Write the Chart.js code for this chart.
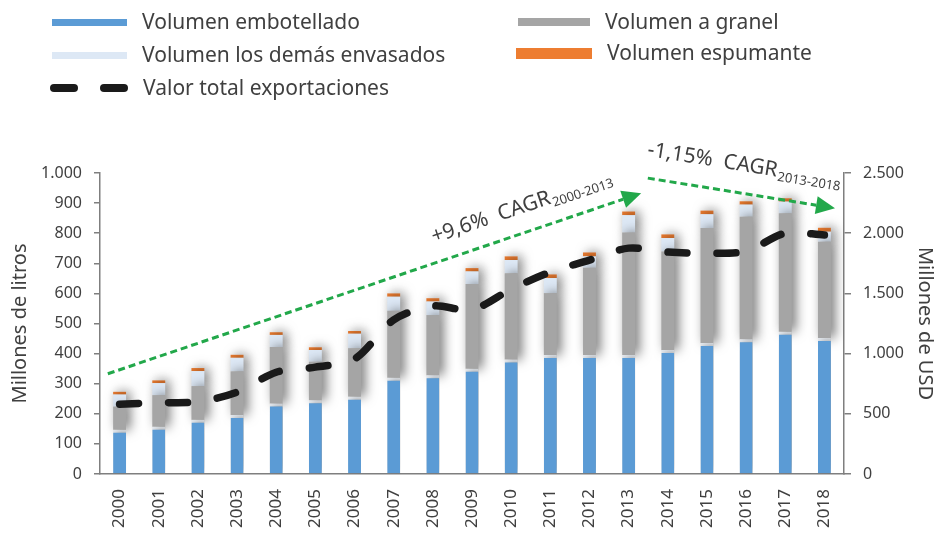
<html>
<head>
<style>
  body { margin: 0; background: #fff; }
  #wrap { position: relative; width: 937px; height: 538px; font-family: "Noto Sans", sans-serif; }
  #chart { position: absolute; left: 0; top: 0; }
  .sw { position: absolute; }
  .lbl { position: absolute; font-size: 21px; line-height: 26px; color: #404040; white-space: nowrap; }
</style>
<script src="https://cdn.jsdelivr.net/npm/chart.js"></script>
</head>
<body>
<div id="wrap">
  <canvas id="chart" width="937" height="538"></canvas>
  <div id="legend"></div>
</div>
<script>
// data
var years = ['2000','2001','2002','2003','2004','2005','2006','2007','2008','2009',
             '2010','2011','2012','2013','2014','2015','2016','2017','2018'];
var embotellado = [147,157,180,196,234,245,257,320,328,350,380,395,395,395,412,435,448,473,452];
var granel      = [ 77,105,112,145,188,128,161,222,200,281,287,206,290,407,327,382,407,393,320];
var demas       = [ 40, 40, 50, 45, 40, 39, 48, 47, 45, 42, 44, 50, 38, 58, 45, 46, 40, 39, 33];
var espumante   = [  9,  9, 10, 10,  9,  9,  9, 11, 11, 11, 12, 12, 13, 12, 12, 12, 11, 11, 13];
var valorTotal  = [580,592,600,680,845,888,955,1280,1395,1365,1535,1677,1776,1876,1843,1834,1851,2000,1985];
var leftTicks   = ['0','100','200','300','400','500','600','700','800','900','1.000'];
var rightTicks  = ['0','500','1.000','1.500','2.000','2.500'];

// growth arrows, in category index / left axis units
var cagrArrows = [
  { from: [-0.3, 333], to: [13.32, 933], t: 0.79, off: 26, main: '+9,6%  CAGR', sub: '2000-2013' },
  { from: [13.49, 983], to: [18.27, 883], t: 0.49, off: 29, main: '-1,15%  CAGR', sub: '2013-2018' }
];

var FONT = '"Noto Sans", sans-serif';
var TXT = '#404040';
var AXIS = '#7f7f7f';

var shadowPlugin = {
  id: 'barShadow',
  beforeDatasetDraw: function(chart, args) {
    var ctx = chart.ctx;
    ctx.save();
    if (args.meta.type === 'bar') {
      ctx.shadowColor = 'rgba(0,0,0,0.55)';
      ctx.shadowBlur = 12;
      ctx.shadowOffsetX = 4;
    }
  },
  afterDatasetDraw: function(chart) {
    chart.ctx.restore();
  }
};

function drawCagrText(ctx, cx, cy, ang, main, sub) {
  ctx.save();
  ctx.translate(cx, cy);
  ctx.rotate(ang);
  ctx.font = '21px ' + FONT;
  var w1 = ctx.measureText(main).width;
  ctx.font = '13px ' + FONT;
  var w2 = ctx.measureText(sub).width;
  var x0 = -(w1 + w2) / 2;
  ctx.fillStyle = TXT;
  ctx.textBaseline = 'alphabetic';
  ctx.font = '21px ' + FONT;
  ctx.fillText(main, x0, 7);
  ctx.font = '13px ' + FONT;
  ctx.fillText(sub, x0 + w1 + 1, 11);
  ctx.restore();
}

var cagrPlugin = {
  id: 'cagr',
  afterDraw: function(chart) {
    var ctx = chart.ctx, xs = chart.scales.x, ys = chart.scales.y;
    cagrArrows.forEach(function(a) {
      var x1 = xs.getPixelForValue(a.from[0]), y1 = ys.getPixelForValue(a.from[1]);
      var x2 = xs.getPixelForValue(a.to[0]), y2 = ys.getPixelForValue(a.to[1]);
      var ang = Math.atan2(y2 - y1, x2 - x1);
      var ux = Math.cos(ang), uy = Math.sin(ang);
      var head = 19, half = 9;
      ctx.save();
      ctx.strokeStyle = '#22a84a';
      ctx.fillStyle = '#22a84a';
      ctx.lineWidth = 3;
      ctx.setLineDash([7, 4]);
      ctx.beginPath();
      ctx.moveTo(x1, y1);
      ctx.lineTo(x2 - ux * head, y2 - uy * head);
      ctx.stroke();
      ctx.setLineDash([]);
      ctx.beginPath();
      ctx.moveTo(x2, y2);
      ctx.lineTo(x2 - ux * head - uy * half, y2 - uy * head + ux * half);
      ctx.lineTo(x2 - ux * head + uy * half, y2 - uy * head - ux * half);
      ctx.closePath();
      ctx.fill();
      ctx.restore();
      var mx = x1 + (x2 - x1) * a.t, my = y1 + (y2 - y1) * a.t;
      drawCagrText(ctx, mx + uy * a.off, my - ux * a.off, ang, a.main, a.sub);
    });
  }
};

var ctx = document.getElementById('chart').getContext('2d');
var myChart = new Chart(ctx, {
  type: 'bar',
  data: {
    labels: years,
    datasets: [
      { label: 'Volumen embotellado', data: embotellado, backgroundColor: '#5b9bd5', stack: 'v', yAxisID: 'y', order: 1,
        borderWidth: { top: 3, left: 0, right: 0, bottom: 0 }, borderColor: '#eef3f9', borderSkipped: 'start' },
      { label: 'Volumen a granel', data: granel, backgroundColor: '#a5a5a5', stack: 'v', yAxisID: 'y', order: 1 },
      { label: 'Volumen los demás envasados', data: demas, backgroundColor: '#dde8f5', stack: 'v', yAxisID: 'y', order: 1 },
      { label: 'Volumen espumante', data: espumante, backgroundColor: '#ed7d31', stack: 'v', yAxisID: 'y', order: 1 },
      { label: 'Valor total exportaciones', type: 'line', data: valorTotal, yAxisID: 'y1', order: 0,
        borderColor: '#1a1a1a', borderWidth: 7.5, borderDash: [19, 30], borderCapStyle: 'round',
        tension: 0.3, pointRadius: 0, fill: false }
    ]
  },
  options: {
    responsive: false,
    animation: false,
    layout: { padding: { top: 173, left: 0, right: 0, bottom: 0 } },
    datasets: { bar: { barPercentage: 0.33, categoryPercentage: 1 } },
    plugins: { legend: { display: false }, tooltip: { enabled: false } },
    scales: {
      x: {
        stacked: true,
        grid: { display: false, drawTicks: false },
        border: { display: true, color: AXIS, width: 1.5 },
        ticks: { minRotation: 90, maxRotation: 90, padding: 15, color: TXT, font: { family: FONT, size: 17 } },
        afterFit: function(s) { s.height = 64; }
      },
      y: {
        stacked: true, position: 'left', min: 0, max: 1000,
        grid: { drawOnChartArea: false, drawTicks: true, tickLength: 6, color: AXIS, lineWidth: 1.5 },
        border: { display: true, color: AXIS, width: 1.5 },
        ticks: { stepSize: 100, padding: 12, color: TXT, font: { family: FONT, size: 16 },
                 callback: function(v, i) { return leftTicks[i]; } },
        title: { display: true, text: 'Millones de litros', color: TXT, font: { family: FONT, size: 20 }, padding: { top: 8, bottom: 0 } },
        afterFit: function(s) { s.width = 100; }
      },
      y1: {
        position: 'right', min: 0, max: 2500,
        grid: { drawOnChartArea: false, drawTicks: true, tickLength: 7, color: AXIS, lineWidth: 1.5 },
        border: { display: true, color: AXIS, width: 1.5 },
        ticks: { stepSize: 500, padding: 12, color: TXT, font: { family: FONT, size: 16 },
                 callback: function(v, i) { return rightTicks[i]; } },
        title: { display: true, text: 'Millones de USD', color: TXT, font: { family: FONT, size: 20 }, padding: { top: 0, bottom: 1 } },
        afterFit: function(s) { s.width = 93; }
      }
    }
  },
  plugins: [shadowPlugin, cagrPlugin]
});

// legend in two columns, built from the datasets
var legendPos = [
  { left: 52, top: 22, sw: 75, h: 7 },
  { left: 518, top: 22, sw: 72, h: 8 },
  { left: 52, top: 55, sw: 75, h: 7 },
  { left: 516, top: 53, sw: 76, h: 11 },
  { left: 50, top: 88, sw: 78, h: 8 }
];
var legend = document.getElementById('legend');
myChart.data.datasets.forEach(function(ds, i) {
  var p = legendPos[i];
  if (ds.type === 'line') {
    [0, 50].forEach(function(dx) {
      var d = document.createElement('div');
      d.className = 'sw';
      d.style.cssText = 'left:' + (p.left + dx) + 'px;top:' + (p.top - 4) + 'px;width:28px;height:' + p.h + 'px;border-radius:4px;background:' + ds.borderColor;
      legend.appendChild(d);
    });
  } else {
    var d = document.createElement('div');
    d.className = 'sw';
    d.style.cssText = 'left:' + p.left + 'px;top:' + (p.top - p.h / 2) + 'px;width:' + p.sw + 'px;height:' + p.h + 'px;background:' + ds.backgroundColor;
    legend.appendChild(d);
  }
  var t = document.createElement('div');
  t.className = 'lbl';
  t.style.left = (p.left + p.sw + 15) + 'px';
  t.style.top = (p.top - 14) + 'px';
  t.textContent = ds.label;
  legend.appendChild(t);
});
</script>
</body>
</html>
